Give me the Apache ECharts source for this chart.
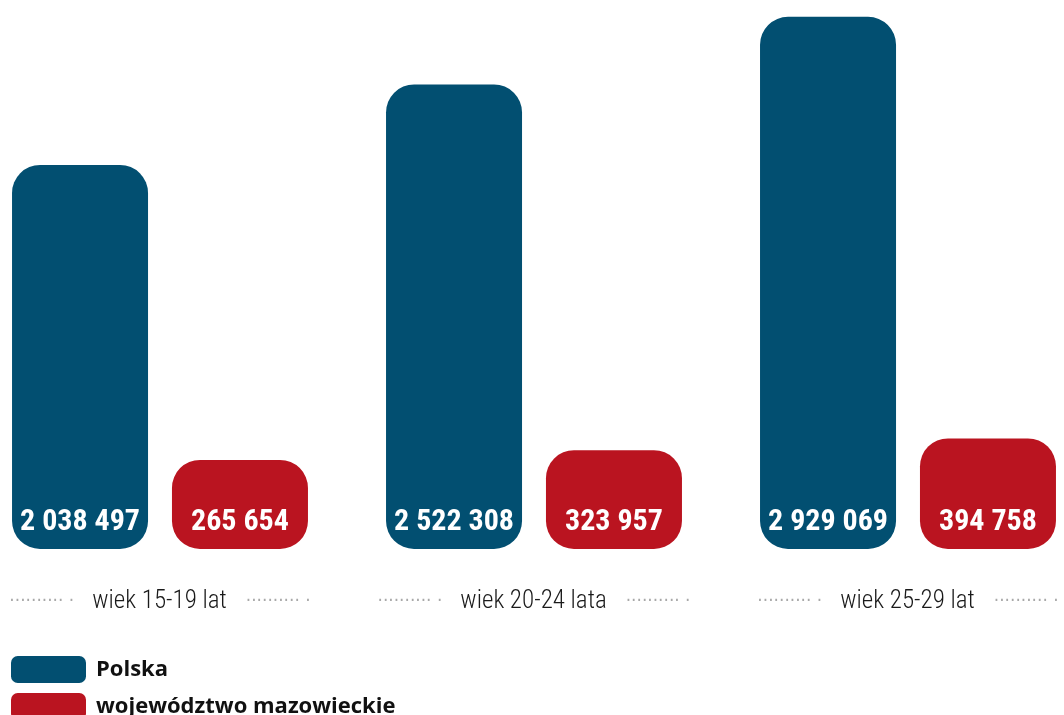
<!DOCTYPE html>
<html>
<head>
<meta charset="utf-8">
<script src="https://cdn.jsdelivr.net/npm/echarts@6/dist/echarts.min.js"></script>
<style>
  html, body { margin: 0; padding: 0; background: #ffffff; }
  #chart { width: 1064px; height: 715px; }
</style>
</head>
<body>
<div id="chart"></div>
<script>
// Population by age group: Poland vs. Masovian Voivodeship
const ageGroups = ['wiek 15-19 lat', 'wiek 20-24 lata', 'wiek 25-29 lat'];
const polska = [2038497, 2522308, 2929069];
const mazowieckie = [265654, 323957, 394758];
const seriesNames = ['Polska', 'województwo mazowieckie'];

const BLUE = '#024f71';
const RED = '#ba1420';

// "2038497" -> "2 038 497"
function groupDigits(v) {
  return String(v).replace(/\B(?=(\d{3})+(?!\d))/g, ' ');
}

const dots = '·········· ·';

const valueLabel = {
  show: true,
  position: 'insideBottom',
  distance: 12,
  color: '#ffffff',
  fontFamily: '"Roboto Condensed", "DejaVu Sans Condensed", sans-serif',
  fontWeight: 'bold',
  fontSize: 30,
  formatter: p => groupDigits(p.value)
};

const chart = echarts.init(document.getElementById('chart'), null, { renderer: 'canvas' });

chart.setOption({
  animation: false,
  backgroundColor: '#ffffff',
  grid: {
    left: -27, right: -31, top: 5, bottom: 166,
    containLabel: false,
    outerBoundsMode: 'none'
  },
  legend: {
    orient: 'vertical',
    left: 11,
    top: 656,
    height: 80,
    padding: 0,
    itemWidth: 75,
    itemHeight: 27,
    itemGap: 10,
    icon: 'roundRect',
    selectedMode: false,
    textStyle: {
      fontFamily: '"Open Sans", "Noto Sans", sans-serif',
      fontWeight: 'bold',
      fontSize: 22,
      color: '#111111',
      padding: [0, 0, 0, 5]
    },
    data: seriesNames
  },
  xAxis: {
    type: 'category',
    data: ageGroups,
    axisLine: { show: false },
    axisTick: { show: false },
    axisLabel: {
      margin: 40,
      formatter: v => '{d|' + dots + '}{t|' + v + '}{d|' + dots + '}',
      rich: {
        d: {
          color: '#a8a8a8',
          fontFamily: '"DejaVu Sans", sans-serif',
          fontSize: 17
        },
        t: {
          color: '#1a1a1a',
          fontFamily: '"Roboto Condensed", "DejaVu Sans Condensed", sans-serif',
          fontWeight: 300,
          fontSize: 25,
          padding: [0, 19, 0, 18]
        }
      }
    }
  },
  yAxis: {
    type: 'value',
    // the axis floor sits below zero and the bars grow from it,
    // so even the short bars have room for their value labels
    min: -270000,
    max: 3000000,
    startValue: -270000,
    show: false,
    splitLine: { show: false }
  },
  series: [
    {
      name: seriesNames[0],
      type: 'bar',
      data: polska,
      barWidth: 136,
      barGap: '17.6%',
      itemStyle: { color: BLUE, borderRadius: 28 },
      label: valueLabel
    },
    {
      name: seriesNames[1],
      type: 'bar',
      data: mazowieckie,
      barWidth: 136,
      itemStyle: { color: RED, borderRadius: 28 },
      label: valueLabel
    }
  ]
});
</script>
</body>
</html>
